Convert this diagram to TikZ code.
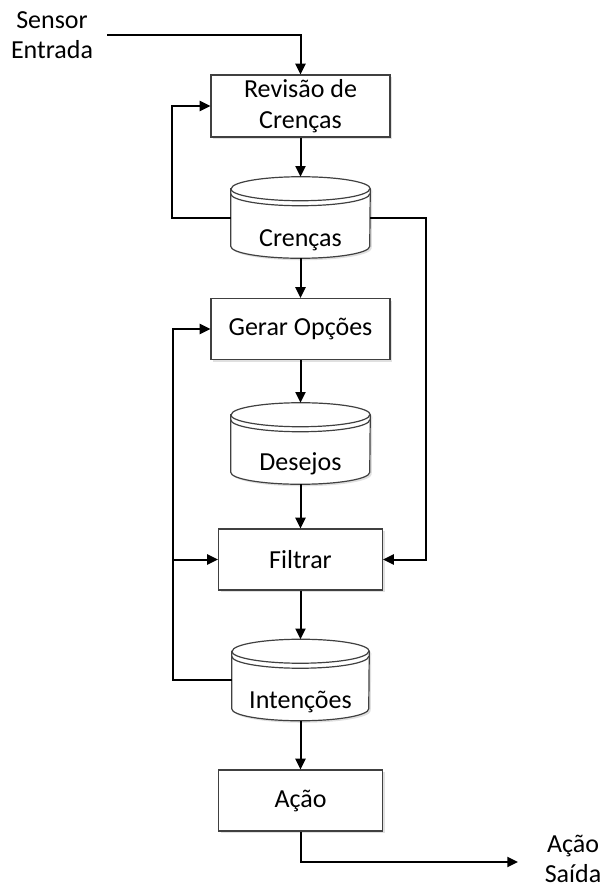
\documentclass[tikz,border=0pt]{standalone}
\usepackage{fontspec}
\setmainfont{Carlito}
\usetikzlibrary{arrows.meta,calc,shadows}
\newcommand\dbdraw[2]{%
  \fill[black!12] ($(#1.north west)+(2,-14)$) -- ($(#1.south west)+(2,10)$) arc[start angle=180,end angle=360,x radius=#2,y radius=12] -- ($(#1.north east)+(2,-14)$) arc[start angle=0,end angle=180,x radius=#2,y radius=12] -- cycle;
  \draw[dbline,fill=white] ($(#1.north west)+(0,-12)$) -- ($(#1.south west)+(0,12)$) arc[start angle=180,end angle=360,x radius=#2,y radius=12] -- ($(#1.north east)+(0,-12)$) arc[start angle=0,end angle=180,x radius=#2,y radius=12] -- cycle;
  \draw[dbline] ($(#1.north west)+(0,-12)$) arc[start angle=180,end angle=360,x radius=#2,y radius=12];
  \draw[dbline] ($(#1.north west)+(0,-17)$) arc[start angle=180,end angle=360,x radius=#2,y radius=12];
}
\begin{document}
\begin{tikzpicture}[x=0.75pt,y=0.75pt,
  font=\fontsize{19.5}{22.8}\selectfont,
  conn/.style={line width=1.5pt,draw=black},
  arr/.style={conn,-{Triangle[length=8pt,width=7.5pt]}},
  dbline/.style={draw=black!75,line width=0.9pt},
  procbox/.style={draw=black!75,line width=0.9pt,fill=white,minimum width=#1*0.75pt,minimum height=61*0.75pt,inner sep=0pt,align=center,
    drop shadow={shadow xshift=1.5pt,shadow yshift=-1.5pt,fill=black!12,opacity=1}},
  dbnode/.style={minimum width=#1*0.75pt,minimum height=81*0.75pt,inner sep=0pt},
  txt/.style={align=center,inner sep=0pt}
]
\useasboundingbox (0,0) rectangle (604,-889);

% nodes
\node[txt] (sensor) at (52,-35) {Sensor\\Entrada};
\coordinate (s0) at (107,-35);
\node[procbox=179,minimum height=62*0.75pt] (rev) at (300.5,-106) {Revisão de\\Crenças};
\node[dbnode=139] (cren) at (300.5,-217.5) {};
\node[procbox=179] (gerar) at (300.5,-329) {Gerar Opções};
\node[dbnode=139] (des) at (300.5,-443.5) {};
\node[procbox=164] (filt) at (300.5,-559.5) {Filtrar};
\node[dbnode=137] (int) at (300.5,-680) {};
\node[procbox=164] (acao) at (300.5,-800.5) {Ação};
\node[txt] (out) at (573,-859) {Ação\\Saída};
\coordinate (o0) at (518,-862);

% cylinders
\dbdraw{cren}{69.5}
\dbdraw{des}{69.5}
\dbdraw{int}{68.5}
\node[anchor=base,inner sep=0pt] (crenlbl) at ($(cren.center)+(0,-29)$) {Crenças};
\node[anchor=base,inner sep=0pt] (deslbl) at ($(des.center)+(0,-27)$) {Desejos};
\node[anchor=base,inner sep=0pt] (intlbl) at ($(int.center)+(0,-28)$) {Intenções};

% connectors
\coordinate (lb1) at (172,-217.5);
\coordinate (rb) at (425.5,-217.5);
\coordinate (lb2) at (173,-680);
\draw[arr] (s0) -| (rev.north);
\draw[arr] (rev.south) -- (cren.north);
\draw[arr] (cren.west) -- (lb1) |- (rev.west);
\draw[arr] (cren.east) -- (rb) |- (filt.east);
\draw[arr] (cren.south) -- (gerar.north);
\draw[arr] (gerar.south) -- (des.north);
\draw[arr] (des.south) -- (filt.north);
\draw[arr] (filt.south) -- (int.north);
\draw[arr] (int.west) -- (lb2) |- (gerar.west);
\draw[arr] (lb2 |- filt.west) -- (filt.west);
\draw[arr] (int.south) -- (acao.north);
\draw[arr] (acao.south) |- (o0);
\end{tikzpicture}
\end{document}
